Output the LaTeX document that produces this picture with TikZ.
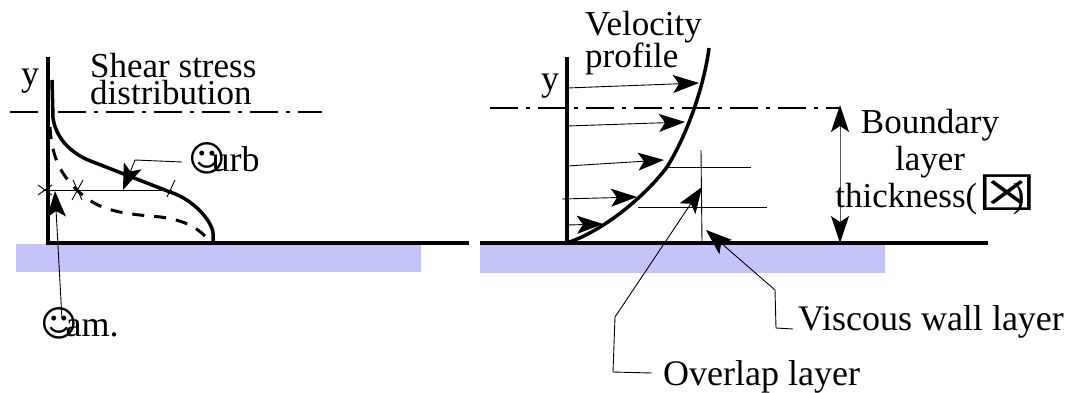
\documentclass[tikz,border=0pt]{standalone}
\usepackage{fontspec}
\usepackage{graphicx}
\setmainfont{Liberation Serif}
\newfontfamily\symfont{DejaVu Sans}
\usetikzlibrary{arrows.meta}
\definecolor{wallblue}{HTML}{C4C4FA}

\tikzset{
  axisline/.style={line width=4pt},
  thickline/.style={line width=3.5pt},
  lamline/.style={line width=3pt, dash pattern=on 12pt off 10pt},
  thinline/.style={line width=0.9pt},
  dashdot/.style={line width=1.6pt, dash pattern=on 28pt off 8pt on 4pt off 8pt},
  vec/.style={thinline, -{Stealth[length=26pt,width=18pt,inset=6pt]}},
  leader/.style={thinline, -{Stealth[length=26pt,width=19pt,inset=6pt]}},
  dimarrow/.style={line width=1pt, draw=black!65,
    {Stealth[length=27pt,width=18pt,inset=6pt,black]}-{Stealth[length=27pt,width=18pt,inset=6pt,black]}},
  lbl/.style={font=\fontsize{36}{36}\selectfont, inner sep=0pt},
}
\newcommand{\smil}{{\symfont\fontsize{36}{36}\selectfont ☺}}
\setlength{\lineskiplimit}{-50pt}

\begin{document}
\begin{tikzpicture}[x=1pt, y=-1pt]
\useasboundingbox (0,0) rectangle (1070,392);
% left panel: shear stress
\fill[wallblue] (16,244) rectangle (421,272);
\draw[axisline] (48,57) -- (48,243) -- (469,243);
\node[lbl, anchor=base] (yleft) at (30,85) {y};
\draw[dashdot] (10,112) -- (322,112);
\node[lbl, anchor=north west, align=left,
  font=\fontsize{35}{27}\selectfont] (shear) at (90,53) {Shear stress\\distribution};
\draw[thickline] (52,80) -- (53,118) .. controls (56,138) and (70,152) .. (88,160)
  -- (170,192) .. controls (195,200) and (212,222) .. (213,233) -- (213,243);
\draw[lamline] (50,127) .. controls (52,160) and (62,175) .. (77,190)
  .. controls (95,208) and (115,213) .. (150,216) .. controls (180,218) and (195,226) .. (205,236);
\draw[thinline] (43,190) -- (172,190);
\draw[thinline] (38,185) -- (52,195) (38,195) -- (52,185);
\draw[thinline] (72,200) -- (83,180) (73,180) -- (82,200);
\draw[thinline] (167,197) -- (175,180);
\node[lbl, anchor=base west] (turb) at (188,171) {\smil\kern-14pt urb};
\node[lbl, anchor=base west] (tlam) at (40,336) {\smil\kern-12pt am.};
\coordinate (turbtip) at (123,190);
\coordinate (lamtip) at (55,191);
\draw[leader] ([xshift=-6pt,yshift=9pt]turb.base west) -- ++(-47,-2) -- (turbtip);
\draw[leader] ([xshift=22pt,yshift=17pt]tlam.base west) -- (lamtip);

% right panel: velocity profile
\fill[wallblue] (480,244) rectangle (885,273);
\draw[axisline] (567,57) -- (567,243);
\draw[axisline] (480,243) -- (988,243);
\node[lbl, anchor=base] (yright) at (550,90) {y};
\draw[dashdot] (490,108) -- (840,108);
\node[lbl, anchor=north west, align=left,
  font=\fontsize{35}{32}\selectfont] (velo) at (585,11) {Velocity\\profile};
\draw[thickline] (567,243) .. controls (610,228) and (650,190) .. (667,167)
  .. controls (690,130) and (705,80) .. (709,48);
\foreach \xa/\ya/\xb/\yb in {567/88/699/83, 567/126/685/122, 567/166/664/160, 562/199/637/197, 567/225/603/224}
  \draw[vec] (\xa,\ya) -- (\xb,\yb);
\draw[thinline] (667,167) -- (751,167);
\draw[thinline] (638,207) -- (767,207);
\draw[thinline] (701,150) -- (702,243);
\node[lbl, anchor=base west] (visc) at (798,330) {Viscous wall layer};
\node[lbl, anchor=base west] (olap) at (663,385) {Overlap layer};
\coordinate (visctip) at (706,230);
\coordinate (olaptip) at (702,187);
\draw[leader] ([xshift=-5pt,yshift=1pt]visc.base west) -- ++(-17,-1) -- ++(-1,-38) -- (visctip);
\draw[leader] ([xshift=-11pt,yshift=12pt]olap.base west) -- ++(-39,-1) -- ++(2,-55) -- (olaptip);
\coordinate (bltop) at (840,105);
\coordinate (blbot) at (840,243);
\draw[dimarrow] (bltop) -- (blbot);
\node[lbl, anchor=north, align=center,
  font=\fontsize{35}{37}\selectfont] (blthick) at (930,109)
  {Boundary\\layer\\thickness(\raisebox{-3pt}{\scalebox{1.9}[1.4]{\symfont ☒}}\kern-24pt)};
\end{tikzpicture}
\end{document}
